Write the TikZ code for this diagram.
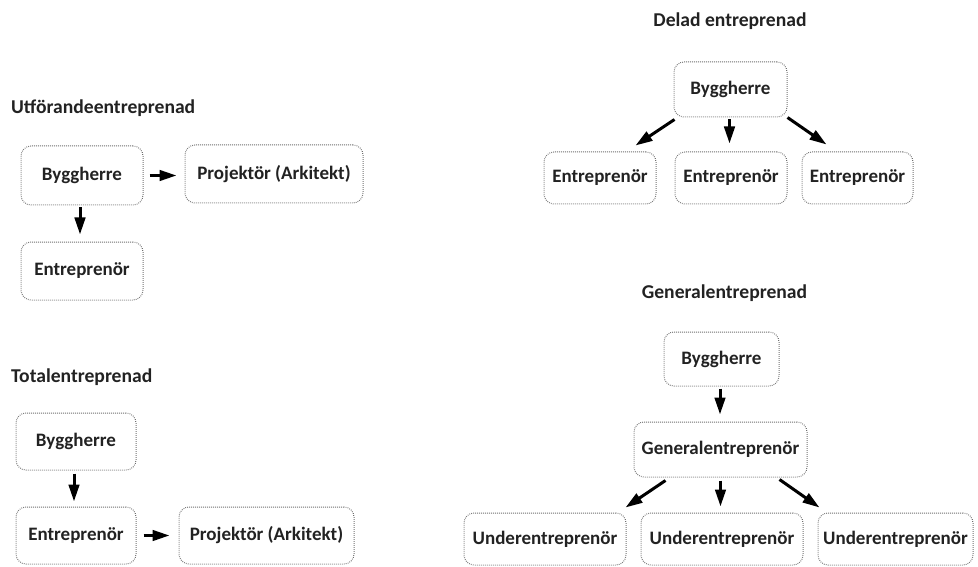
\documentclass[tikz,border=0pt]{standalone}
\usepackage{fontspec}
\setmainfont{Carlito}
\usetikzlibrary{arrows.meta,calc}
\definecolor{txt}{HTML}{222222}
\definecolor{bord}{HTML}{6E6E6E}
\tikzset{
  box/.style={draw=bord, dash pattern=on 0.8pt off 1.2pt, line width=1pt, rounded corners=10pt, inner sep=0pt,
    font=\fontsize{19}{21}\selectfont\bfseries, text=txt, align=center},
  ttl/.style={font=\fontsize{19.6}{21}\selectfont\bfseries, text=txt, inner sep=0pt},
  arr/.style={draw=black, line width=3pt, -{Triangle[length=17pt,width=10.5pt]}},
}
\begin{document}
\begin{tikzpicture}[x=1pt,y=-1pt]
\useasboundingbox (0,0) rectangle (978,567);
% Utforandeentreprenad
\node[ttl, anchor=west] (t1) at (11,108) {Utförandeentreprenad};
\node[box, minimum width=122pt, minimum height=59pt] (ub) at (82,175.5) {Byggherre};
\node[box, minimum width=178pt, minimum height=58pt] (up) at (274,174) {Projektör (Arkitekt)};
\node[box, minimum width=122pt, minimum height=58pt] (ue) at (82,271) {Entreprenör};
\draw[arr, shorten <=6pt, shorten >=8pt] (ub.east) -- (ub.east -| up.west);
\draw[arr, shorten <=2pt, shorten >=7pt] ([xshift=-2pt]ub.south) -- ([xshift=-2pt]ub.south |- ue.north);
% Totalentreprenad
\node[ttl, anchor=west] (t2) at (11,377) {Totalentreprenad};
\node[box, minimum width=120pt, minimum height=57pt] (tb) at (76,441.5) {Byggherre};
\node[box, minimum width=120pt, minimum height=57pt] (te) at (76,535.5) {Entreprenör};
\node[box, minimum width=175pt, minimum height=57pt] (tp) at (266.5,535.5) {Projektör (Arkitekt)};
\draw[arr, shorten <=3pt, shorten >=5pt] ([xshift=-2pt]tb.south) -- ([xshift=-2pt]tb.south |- te.north);
\draw[arr, shorten <=7pt, shorten >=9pt] (te.east) -- (te.east -| tp.west);
% Delad entreprenad
\node[ttl] (t3) at (730,21) {Delad entreprenad};
\node[box, minimum width=113pt, minimum height=55pt] (db) at (730.5,89.5) {Byggherre};
\node[box, minimum width=112pt, minimum height=52pt] (de1) at (600,178) {Entreprenör};
\node[box, minimum width=112pt, minimum height=52pt] (de2) at (731,178) {Entreprenör};
\node[box, minimum width=111pt, minimum height=52pt] (de3) at (857.5,178) {Entreprenör};
\draw[arr] ([shift={(1,2)}]db.south west) -- ([shift={(-21,-6)}]de1.north east);
\draw[arr, shorten <=2pt, shorten >=8pt] ([xshift=-1pt]db.south) -- ([xshift=-1pt]db.south |- de2.north);
\draw[arr] ([shift={(0,0)}]db.south east) -- ([shift={(25,-7)}]de3.north west);
% Generalentreprenad
\node[ttl] (t4) at (724.5,293) {Generalentreprenad};
\node[box, minimum width=115pt, minimum height=54pt] (gb) at (721.5,359) {Byggherre};
\node[box, minimum width=173pt, minimum height=55pt] (ge) at (720.5,449.5) {Generalentreprenör};
\node[box, minimum width=162pt, minimum height=52pt] (gu1) at (545,539) {Underentreprenör};
\node[box, minimum width=162pt, minimum height=52pt] (gu2) at (722,539) {Underentreprenör};
\node[box, minimum width=155pt, minimum height=52pt] (gu3) at (895.5,539) {Underentreprenör};
\draw[arr, shorten <=2pt, shorten >=7pt] ([xshift=-1.5pt]gb.south) -- ([xshift=-1.5pt]gb.south |- ge.north);
\draw[arr] ([shift={(32,3)}]ge.south west) -- ([shift={(-1,-5)}]gu1.north east);
\draw[arr, shorten <=3pt, shorten >=6pt] (ge.south) -- (ge.south |- gu2.north);
\draw[arr] ([shift={(-28,2)}]ge.south east) -- ([shift={(2,-5)}]gu3.north west);
\end{tikzpicture}
\end{document}
